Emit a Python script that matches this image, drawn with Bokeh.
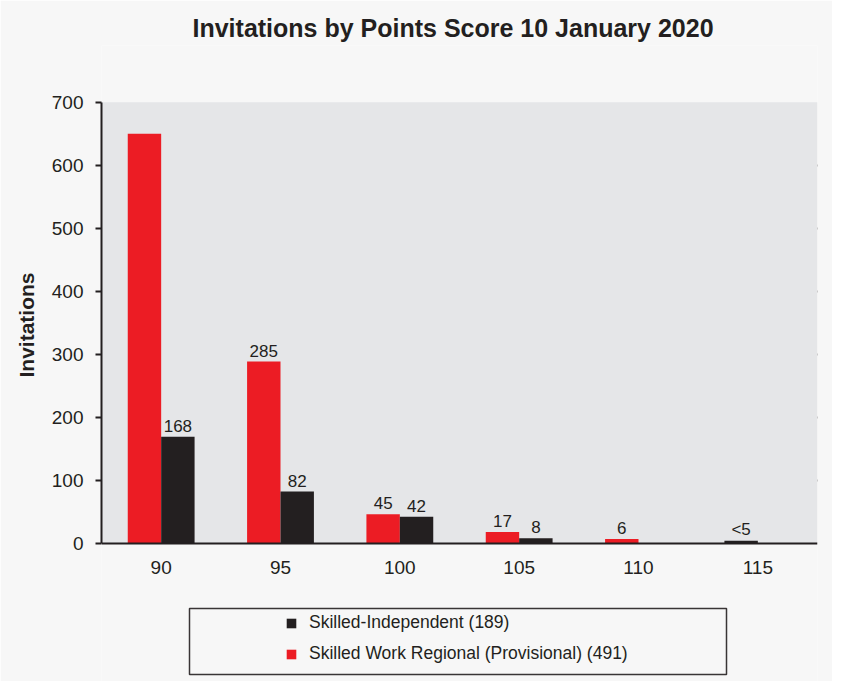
#Invitations by points score, grouped bar chart

from bokeh.plotting import figure
from bokeh.models import FactorRange, FixedTicker, Legend, LegendItem, BoxAnnotation, Title
from bokeh.transform import dodge
from bokeh.core.properties import value
from bokeh.embed import file_html
from bokeh.resources import INLINE

#Data

scores = ["90", "95", "100", "105", "110", "115"]

regional = [650, 289, 47, 19, 8, 0]
independent = [170, 83, 43, 9, 0, 5]

regional_labels = ["", "285", "45", "17", "6", ""]
independent_labels = ["168", "82", "42", "8", "", "<5"]

y_ticks = [0, 100, 200, 300, 400, 500, 600, 700]
grid_ticks = [100, 200, 300, 400, 500, 600]

font = "Liberation Sans"
ink = "#231f20"
red = "#ec1c24"
page = "#f7f7f7"
panel = "#e5e6e8"

#A lone black bar takes the left slot, as in the original chart
black_x = [i + 0.5 + (0.14 if r > 0 else -0.14) for i, r in enumerate(regional)]

data = {
    'scores': scores,
    'black_x': black_x,
    'regional': regional,
    'independent': independent,
    'regional_labels': regional_labels,
    'independent_labels': independent_labels,
}

#Create the figure (the frame runs past the chart, the chart itself sits in 0..700)

plot = figure(x_range=FactorRange(*scores), y_range=(-218, 790),
              width=832, height=681,
              output_backend="svg", toolbar_location=None,
              min_border_left=101, min_border_right=15,
              min_border_top=45, min_border_bottom=0,
              background_fill_color=page, border_fill_color=page)

plot.outline_line_color = None

plot.add_layout(BoxAnnotation(bottom=0, top=700, fill_color=panel, fill_alpha=1,
                              line_color=None, level="underlay"))

plot.title.text = "Invitations by Points Score 10 January 2020"
plot.title.align = "left"
plot.title.offset = 91
plot.title.vertical_align = "bottom"
plot.title.standoff = 8
plot.title.text_font = font
plot.title.text_font_size = "25px"
plot.title.text_font_style = "bold"
plot.title.text_color = ink

#Bars

r_red = plot.vbar(x=dodge('scores', -0.14, range=plot.x_range), top='regional',
                  width=0.28, source=data, color=red, line_color=None)
r_black = plot.vbar(x='black_x', top='independent',
                    width=0.28, source=data, color=ink, line_color=None)

#Value labels above the bars

plot.text(x=dodge('scores', -0.14, range=plot.x_range), y='regional', text='regional_labels',
          source=data, text_align="center", text_baseline="alphabetic", y_offset=-11,
          text_font=value(font), text_font_size="17px", text_color=ink)
plot.text(x='black_x', y='independent', text='independent_labels',
          source=data, text_align="center", text_baseline="alphabetic", y_offset=-11,
          text_font=value(font), text_font_size="17px", text_color=ink)

#Axes and grid

plot.xgrid.grid_line_color = None
plot.ygrid.ticker = FixedTicker(ticks=grid_ticks)
plot.ygrid.grid_line_color = ink
plot.ygrid.grid_line_width = 2

plot.yaxis.ticker = FixedTicker(ticks=y_ticks)
plot.yaxis.bounds = (0, 700)
plot.yaxis.minor_tick_line_color = None
plot.yaxis.major_tick_in = 0
plot.yaxis.major_tick_out = 6
plot.yaxis.major_tick_line_width = 2
plot.yaxis.major_tick_line_color = ink
plot.yaxis.major_label_standoff = 12

plot.xaxis.fixed_location = 0
plot.xaxis.major_tick_line_color = None
plot.xaxis.major_label_standoff = 11

for axis in [plot.xaxis, plot.yaxis]:
    axis.axis_line_color = ink
    axis.axis_line_width = 2
    axis.major_label_text_font = font
    axis.major_label_text_font_size = "19px"
    axis.major_label_text_color = ink

#Y axis title, centred on the 0..700 part rather than the whole frame

plot.add_layout(Title(text="Invitations", align="left", offset=304, standoff=22,
                      text_font=font, text_font_size="21px", text_font_style="bold",
                      text_color=ink), "left")

#Legend under the chart, with its own frame

plot.add_layout(BoxAnnotation(left=189, right=726, top=608, bottom=674,
                              left_units="canvas", right_units="canvas",
                              top_units="canvas", bottom_units="canvas",
                              fill_alpha=0, line_color=ink, line_width=1.5, line_alpha=0.9))

legend = Legend(items=[
    LegendItem(label="Skilled-Independent (189)", renderers=[r_black]),
    LegendItem(label="Skilled Work Regional (Provisional) (491)", renderers=[r_red]),
], location=(184, 17), padding=0, margin=0, spacing=10,
    glyph_width=12, glyph_height=12, label_standoff=12, label_height=20,
    border_line_alpha=0, background_fill_alpha=0,
    label_text_font=font, label_text_font_size="17.5px", label_text_color=ink)
plot.add_layout(legend)

#Output the plot

open("out.html", "w").write(file_html(plot, INLINE))
